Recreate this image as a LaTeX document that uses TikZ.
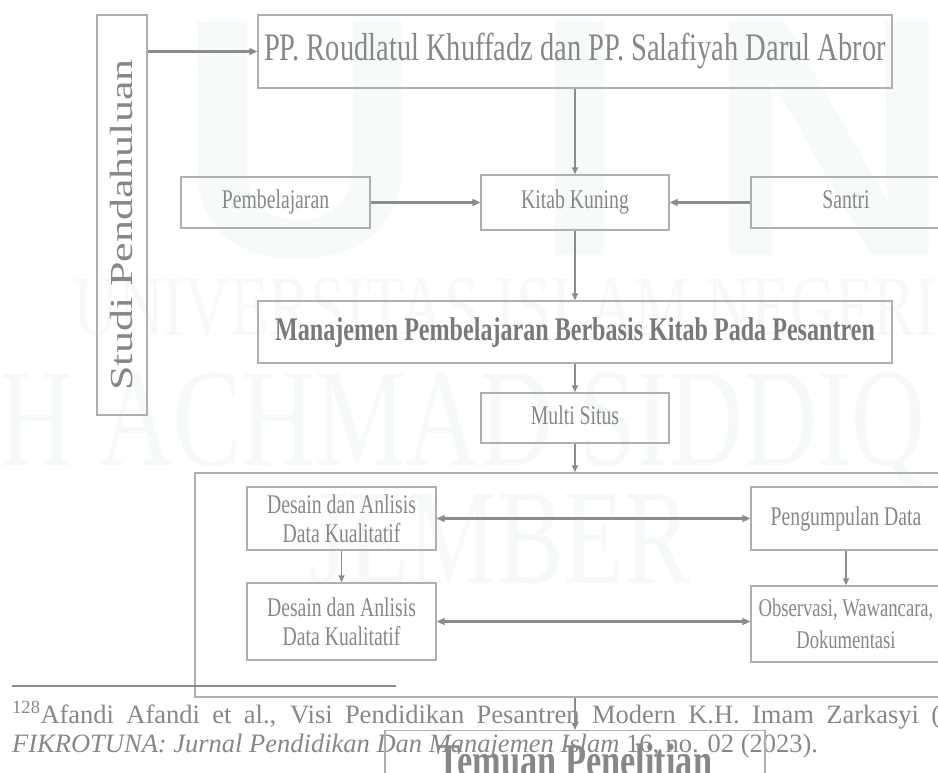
\documentclass[tikz,border=0pt]{standalone}
\usepackage{fontspec}
\setmainfont{Liberation Serif}
\newfontfamily\narrowserif[FakeStretch=0.73]{Liberation Serif}
\newfontfamily\logosans{Liberation Sans}
\usetikzlibrary{arrows.meta}

\definecolor{framegray}{RGB}{175,175,175}
\definecolor{inkgray}{RGB}{135,135,135}
\definecolor{linkgray}{RGB}{140,140,140}
\definecolor{markgray}{RGB}{245,249,248}
\definecolor{logogray}{RGB}{246,250,249}

\tikzset{
  box/.style={draw=framegray, line width=1.4pt, text=inkgray, align=center,
    inner sep=0pt, font=\narrowserif\fontsize{27}{29}\selectfont},
  oneline/.style={text height=19pt, text depth=6pt},
  vlink/.style={draw=linkgray, line width=1.6pt, -{Triangle[length=7pt,width=6pt]}},
  hlink/.style={draw=linkgray, line width=3pt, -{Triangle[length=8pt,width=7pt]}},
  twolink/.style={draw=linkgray, line width=3pt,
    {Triangle[length=8pt,width=7pt]}-{Triangle[length=8pt,width=7pt]}},
  wmark/.style={text=markgray, inner sep=0pt, anchor=base},
  footline/.style={text=inkgray, inner sep=0pt, anchor=base west,
    font=\fontsize{26.5}{29}\selectfont}
}

\begin{document}
\begin{tikzpicture}[x=1pt,y=-1pt]
  \useasboundingbox (0,0) rectangle (938,773);
  \clip (0,0) rectangle (938,773);

  \node[wmark, text=logogray, font=\logosans\bfseries\fontsize{340}{340}\selectfont] (wmuin) at (565,255) {U\hspace{110pt}I\hspace{80pt}N};
  \node[wmark, font=\narrowserif\fontsize{86}{86}\selectfont] (wmuni) at (505,335) {UNIVERSITAS ISLAM NEGERI};
  \node[wmark, anchor=base west, font=\narrowserif\fontsize{140}{140}\selectfont] (wmkh) at (-74,465) {KH ACHMAD SIDDIQ};
  \node[wmark, font=\narrowserif\fontsize{136}{136}\selectfont] (wmjember) at (500,583) {JEMBER};

  \node[box, minimum width=50, minimum height=400] (studi) at (122,215)
    {\rotatebox{90}{\scalebox{1}[0.73]{\rmfamily\fontsize{44}{44}\selectfont Studi Pendahuluan\hspace{20pt}}}};
  \node[box, minimum width=634, minimum height=73, text height=27pt, text depth=9pt,
    font=\narrowserif\fontsize{39}{41}\selectfont] (pp) at (575,51.5)
    {PP. Roudlatul Khuffadz dan PP. Salafiyah Darul Abror};

  \node[box, oneline, minimum width=189, minimum height=51] (pemb) at (275.5,202.5) {Pembelajaran};
  \node[box, oneline, minimum width=188, minimum height=55] (kitab) at (575,202.5) {Kitab Kuning};
  \node[box, oneline, minimum width=190, minimum height=51] (santri) at (846,202.5) {Santri};

  \node[box, minimum width=634, minimum height=62, text height=23pt, text depth=7pt, text=inkgray!90!black,
    font=\narrowserif\bfseries\fontsize{33}{35}\selectfont] (manaj) at (575,332)
    {Manajemen Pembelajaran Berbasis Kitab Pada Pesantren};
  \node[box, oneline, minimum width=188, minimum height=50] (multi) at (575,418) {Multi Situs};

  \node[box, minimum width=765, minimum height=224] (bigbox) at (577.5,585) {};
  \node[box, minimum width=189, minimum height=63] (desainA) at (341.5,518.5) {Desain dan Anlisis\\Data Kualitatif};
  \node[box, minimum width=189, minimum height=77] (desainB) at (341.5,621.5) {Desain dan Anlisis\\Data Kualitatif};
  \node[box, oneline, minimum width=190, minimum height=63] (kumpul) at (846,518.5) {Pengumpulan Data};
  \node[box, minimum width=190, minimum height=76, font=\narrowserif\fontsize{25.5}{32}\selectfont] (observ) at (846,624)
    {Observasi, Wawancara,\\Dokumentasi};

  \draw[linkgray, line width=2pt] (12,686) -- (396,686);
  \node[footline] (noteA) at (12,723)
    {\makebox[928pt][s]{\textsuperscript{128}Afandi Afandi et al., Visi Pendidikan Pesantren Modern K.H. Imam Zarkasyi (}};
  \node[footline] (noteB) at (12,752)
    {\textit{FIKROTUNA: Jurnal Pendidikan Dan Manajemen Islam} 16, no. 02 (2023).};

  \node[box, anchor=north, minimum width=380, inner ysep=15pt, text height=31pt, text depth=40pt,
    font=\narrowserif\bfseries\fontsize{47}{49}\selectfont] (temuan) at (575,730) {Temuan Penelitian};

  \draw[hlink] (studi.east |- pp.west) -- (pp.west);
  \draw[vlink] (pp) -- (kitab);
  \draw[hlink] (pemb) -- (kitab);
  \draw[hlink] (santri) -- (kitab);
  \draw[vlink] (kitab) -- (manaj);
  \draw[vlink] (manaj) -- (multi);
  \draw[vlink] (multi) -- (multi |- bigbox.north);
  \draw[vlink] (desainA) -- (desainB);
  \draw[vlink] (kumpul) -- (observ);
  \draw[twolink] (desainA) -- (kumpul);
  \draw[twolink] (desainB.east) -- (desainB.east -| observ.west);
  \draw[vlink] (temuan.north |- bigbox.south) -- (temuan.north);
\end{tikzpicture}
\end{document}
